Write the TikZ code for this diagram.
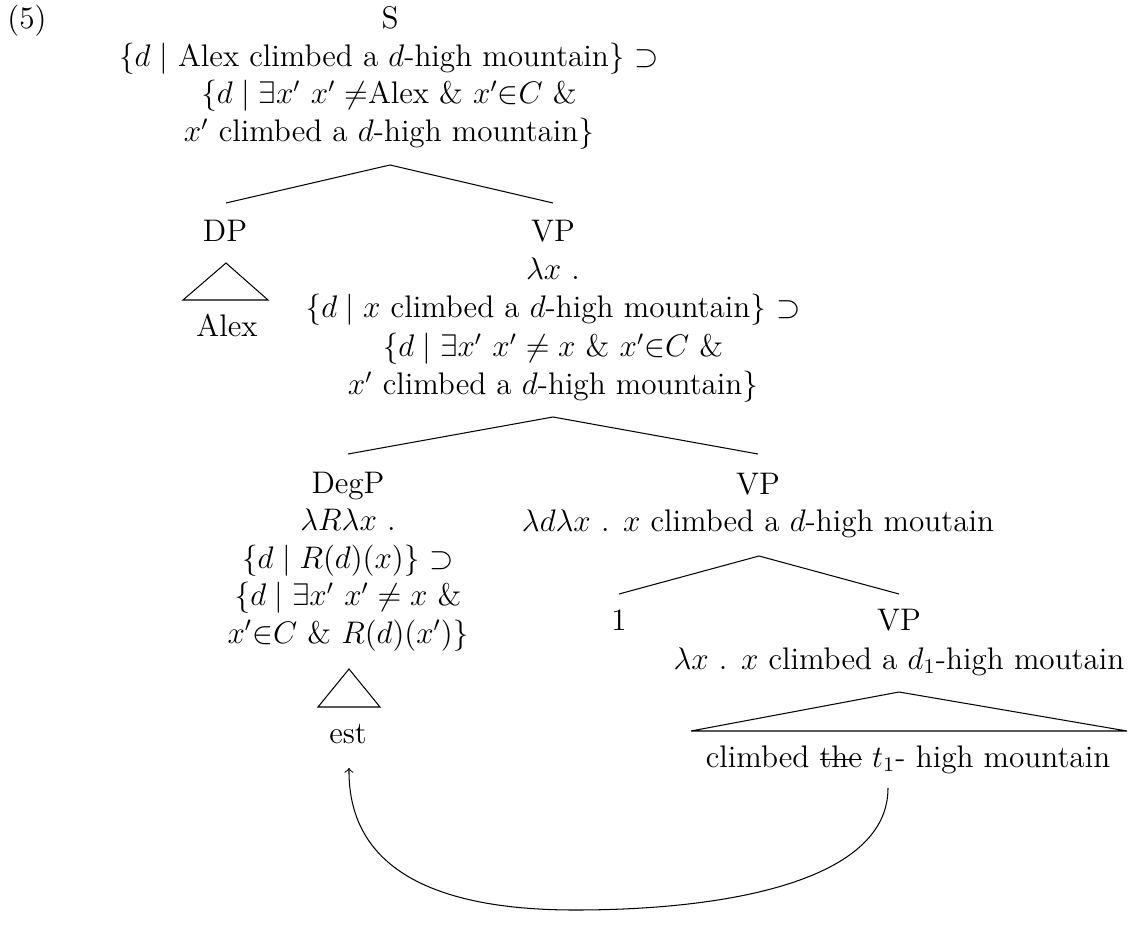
\documentclass[tikz,border=0pt]{standalone}
\newcommand\mystrike[1]{\setbox0\hbox{#1}\rlap{\rule[0.55ex]{\wd0}{0.4pt}}\box0\relax}
\begin{document}
\begin{tikzpicture}[x=0.3846pt,y=-0.3846pt,
  every node/.style={inner sep=0pt, outer sep=0pt},
  lbl/.style={anchor=base, font=\fontsize{12}{14.4}\selectfont},
  branch/.style={line width=0.4pt},
  tri/.style={line width=0.4pt},
  move/.style={->, line width=0.4pt}]
\useasboundingbox (0,0) rectangle (1134,941);

% example number
\node[lbl] (ex) at (27,29) {(5)};

% S
\node[lbl] (S) at (390,29) {S};
\node[lbl] (Ssem1) at (389,66.5) {\{$d\mid$ Alex climbed a $d$-high mountain\} $\supset$};
\node[lbl] (Ssem2) at (389,104) {\{$d\mid\exists x'$ $x'\neq$Alex \& $x'{\in}C$ \&};
\node[lbl] (Ssem3) at (389,141.5) {$x'$ climbed a $d$-high mountain\}};
\coordinate (Sb) at (390,165);
\coordinate (DPt) at (226,203);
\coordinate (VPat) at (553,203);
\draw[branch] (DPt) -- (Sb) -- (VPat);

% DP
\node[lbl] (DP) at (225,242) {DP};
\coordinate (DPa) at (226,263);
\coordinate (DPl) at (183,300);
\coordinate (DPr) at (268,300);
\draw[tri] (DPa) -- (DPl) -- (DPr) -- cycle;
\node[lbl] (Alex) at (227,337) {Alex};

% VP (upper)
\node[lbl] (VPa) at (553,242) {VP};
\node[lbl] (VPasem1) at (553,279.5) {$\lambda x$ .};
\node[lbl] (VPasem2) at (553,318) {\{$d\mid x$ climbed a $d$-high mountain\} $\supset$};
\node[lbl] (VPasem3) at (553,356.5) {\{$d\mid\exists x'$ $x'\neq x$ \& $x'{\in}C$ \&};
\node[lbl] (VPasem4) at (553,395) {$x'$ climbed a $d$-high mountain\}};
\coordinate (VPab) at (553,417);
\coordinate (DegPt) at (348,454);
\coordinate (VPbt) at (758,454);
\draw[branch] (DegPt) -- (VPab) -- (VPbt);

% DegP
\node[lbl] (DegP) at (348,493) {DegP};
\node[lbl] (DegPsem1) at (348,530.5) {$\lambda R\lambda x$ .};
\node[lbl] (DegPsem2) at (348,568) {\{$d\mid R(d)(x)$\} $\supset$};
\node[lbl] (DegPsem3) at (348,605.5) {\{$d\mid\exists x'$ $x'\neq x$ \&};
\node[lbl] (DegPsem4) at (348,643) {$x'{\in}C$ \& $R(d)(x')$\}};
\coordinate (DegPa) at (349,669);
\coordinate (DegPl) at (318,707);
\coordinate (DegPr) at (380,707);
\draw[tri] (DegPa) -- (DegPl) -- (DegPr) -- cycle;
\node[lbl] (est) at (348,743) {est};

% VP (middle)
\node[lbl] (VPb) at (758,494) {VP};
\node[lbl] (VPbsem) at (758,531.5) {$\lambda d\lambda x$ . $x$ climbed a $d$-high moutain};
\coordinate (VPbb) at (759,556);
\coordinate (onet) at (619,594);
\coordinate (VPct) at (899,594);
\draw[branch] (onet) -- (VPbb) -- (VPct);

% 1
\node[lbl] (one) at (619,630) {1};

% VP (lower)
\node[lbl] (VPc) at (899,630) {VP};
\node[lbl] (VPcsem) at (899,669) {$\lambda x$ . $x$ climbed a $d_1$-high moutain};
\coordinate (VPca) at (899,692);
\coordinate (VPcl) at (691,731);
\coordinate (VPcr) at (1127,731);
\draw[tri] (VPca) -- (VPcl) -- (VPcr) -- cycle;
\node[lbl] (leaf) at (908,767) {climbed \mystrike{the} $t_1$- high mountain};

% movement arrow
\coordinate (mvs) at (888,788);
\coordinate (mve) at (349,768);
\draw[move] (mvs) .. controls (888,880) and (730,910) .. (575,910)
  .. controls (420,910) and (348,860) .. (mve);
\end{tikzpicture}
\end{document}
